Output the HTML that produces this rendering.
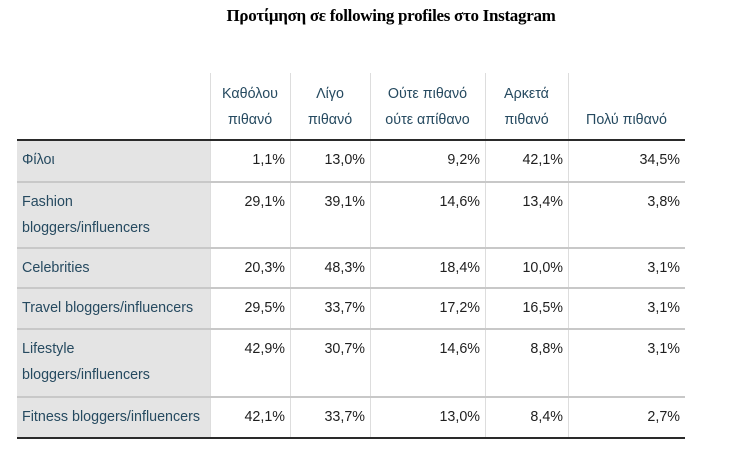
<!DOCTYPE html>
<html><head><meta charset="utf-8"><style>
body{margin:0;width:733px;height:451px;background:#fff;position:relative;overflow:hidden;font-family:"Liberation Sans",sans-serif;color:#1f1f1f}
.t{position:absolute;top:6px;left:0;width:782px;text-align:center;font:bold 17px "Liberation Serif",serif;color:#000;letter-spacing:-0.3px}
.c{position:absolute;font-size:14.3px;line-height:26px;white-space:nowrap}
.h{color:#264a60;text-align:center}
.r{text-align:right}
.l{color:#264a60;left:22px}
.bg{position:absolute;left:17px;width:193px;background:#e4e4e4}
.hl{position:absolute;left:17px;width:668px;height:2px;background:#c8c8c8}
.vl{position:absolute;width:1px;background:#dddddd}
</style></head><body>
<div class="t">Προτίμηση σε following profiles στο Instagram</div>
<div id="tbl"></div>
<script>
const cols=["Καθόλου<br>πιθανό","Λίγο<br>πιθανό","Ούτε πιθανό<br>ούτε απίθανο","Αρκετά<br>πιθανό","Πολύ πιθανό"];
const rows=["Φίλοι","Fashion<br>bloggers/influencers","Celebrities","Travel bloggers/influencers","Lifestyle<br>bloggers/influencers","Fitness bloggers/influencers"];
const vals=[["1,1%","13,0%","9,2%","42,1%","34,5%"],["29,1%","39,1%","14,6%","13,4%","3,8%"],["20,3%","48,3%","18,4%","10,0%","3,1%"],["29,5%","33,7%","17,2%","16,5%","3,1%"],["42,9%","30,7%","14,6%","8,8%","3,1%"],["42,1%","33,7%","13,0%","8,4%","2,7%"]];
const xs=[210,290,370,485,568,685];
const ys=[140,182,248,288,329,397,438];
const T=document.getElementById('tbl');
function add(cls,style,html){const d=document.createElement('div');d.className=cls;d.style.cssText=style;d.innerHTML=html||'';T.appendChild(d);return d;}
for(let i=0;i<rows.length;i++){
 const b=add('bg','top:'+ys[i]+'px;height:'+(ys[i+1]-ys[i])+'px');
 
 
}
for(let j=0;j<xs.length-1;j++){
 const v=add('vl','left:'+xs[j]+'px;top:73px;height:'+(438-73)+'px');
 
 
}
for(let i=1;i<rows.length;i++){
 const h=add('hl','top:'+(ys[i]-1)+'px');
 
 
}
const top1=add('hl','top:139px;height:2px;background:#2a2a2a');


const bot=add('hl','top:437px;height:2px;background:#2a2a2a');


cols.forEach((c,j)=>{
 const isOne=c.indexOf('<br>')<0;
 const d=add('c h','left:'+xs[j]+'px;width:'+(xs[j+1]-xs[j])+'px;top:'+(isOne?107:81)+'px',c);
 
 
});
rows.forEach((r,i)=>{
 const d=add('c l','top:'+(ys[i]+7)+'px',r);
 
 
 vals[i].forEach((v,j)=>{
  const e=add('c r','left:'+xs[j]+'px;width:'+(xs[j+1]-xs[j]-5)+'px;top:'+(ys[i]+7)+'px',v);
  
  
 });
});
</script>
</body></html>
